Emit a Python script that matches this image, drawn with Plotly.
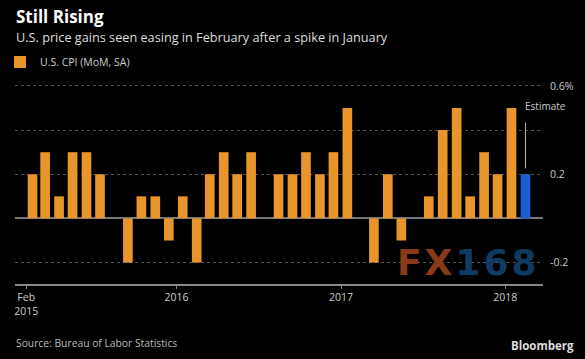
import pandas as pd
import plotly.graph_objects as go

# ---- data ----
month_labels = [p.strftime("%Y-%m") for p in pd.period_range("2015-02", "2018-02", freq="M")]
cpi_actual = [0.2, 0.3, 0.1, 0.3, 0.3, 0.2, 0.0, -0.2, 0.1, 0.1, -0.1, 0.1,
              -0.2, 0.2, 0.3, 0.2, 0.3, 0.0, 0.2, 0.2, 0.3, 0.2, 0.3, 0.5,
              0.0, -0.2, 0.2, -0.1, 0.0, 0.1, 0.4, 0.5, 0.1, 0.3, 0.2, 0.5]
cpi_estimate = [0.2]
tick_dates = ["2015-02-01", "2016-01-01", "2017-01-01", "2018-01-01"]
tick_labels = ["Feb<br>2015", "2016", "2017", "2018"]
y_tickvals = [-0.2, 0.0, 0.2, 0.4, 0.6]
y_ticktext = ["-0.2", "", "0.2", "", "0.6%"]

ORANGE = "#E8952C"
BLUE = "#1B5FD2"
FONT = "Open Sans"

x_all = [pd.Timestamp(m + "-15") for m in month_labels]
x_actual = x_all[:len(cpi_actual)]
x_est = x_all[len(cpi_actual):]
bar_w = 21.5 * 86400000

fig = go.Figure()
fig.add_trace(go.Bar(x=x_actual, y=cpi_actual, name="U.S. CPI (MoM, SA)",
                     marker=dict(color=ORANGE, line=dict(width=0)), width=bar_w))
fig.add_trace(go.Bar(x=x_est, y=cpi_estimate, name="Estimate", showlegend=False,
                     marker=dict(color=BLUE, line=dict(width=0)), width=bar_w))

W, H = 585, 359
T, B, L, R = 80, 75, 15, 42
PW = W - L - R
def py(pix):
    return (H - B - pix) / (H - T - B)
def px(pix):
    return (pix - L) / PW

fig.update_layout(
    width=W, height=H,
    margin=dict(l=L, r=R, t=T, b=B, autoexpand=False),
    paper_bgcolor="#000000", plot_bgcolor="#000000",
    barmode="overlay",
    font=dict(family=FONT, color="#cccccc", size=11),
    showlegend=True,
    legend=dict(x=-2 / W, y=1 - 62 / H, xref="container", yref="container",
                xanchor="left", yanchor="middle",
                orientation="h", bgcolor="rgba(0,0,0,0)",
                font=dict(size=10.5, color="#cccccc", family=FONT),
                itemwidth=30),
    xaxis=dict(type="date", range=["2015-01-07", "2018-03-26"],
               tickvals=tick_dates, ticktext=tick_labels,
               ticks="outside", ticklen=3, tickcolor="#888888", tickwidth=1,
               showline=True, linecolor="#888888", linewidth=1.5,
               showgrid=False, zeroline=False, automargin=False,
               tickfont=dict(size=10.5, color="#cccccc")),
    yaxis=dict(range=[-0.297, 0.627], side="right", automargin=False,
               tickvals=y_tickvals, ticktext=y_ticktext,
               showgrid=True, gridcolor="#555555", griddash="dot", gridwidth=1,
               zeroline=True, zerolinecolor="#777777", zerolinewidth=1.5,
               ticks="", tickfont=dict(size=10.5, color="#cccccc"),
               ticklabelstandoff=6),
)

annotations = [
    dict(text="<b>Still Rising</b>", x=px(14), y=py(16), xref="paper", yref="paper",
         xanchor="left", yanchor="middle", showarrow=False,
         font=dict(size=17, color="#ffffff", family=FONT)),
    dict(text="U.S. price gains seen easing in February after a spike in January",
         x=px(14), y=py(37), xref="paper", yref="paper",
         xanchor="left", yanchor="middle", showarrow=False,
         font=dict(size=12.7, color="#dddddd", family=FONT)),
    dict(text="Source: Bureau of Labor Statistics", x=px(14), y=py(343), xref="paper", yref="paper",
         xanchor="left", yanchor="middle", showarrow=False,
         font=dict(size=10.3, color="#bbbbbb", family=FONT)),
    dict(text="<b>Bloomberg</b>", x=px(576), y=py(345), xref="paper", yref="paper",
         xanchor="right", yanchor="middle", showarrow=False,
         font=dict(size=11.5, color="#dddddd", family=FONT)),
    # estimate label and leader line
    dict(text="", x=x_est[0], y=cpi_estimate[0], xref="x", yref="y",
         showarrow=True, arrowhead=0, arrowwidth=1, arrowcolor="#bbbbbb",
         ax=0, ay=-53, standoff=6),
    dict(text="Estimate", x=x_est[0], y=cpi_estimate[0], xref="x", yref="y",
         xanchor="left", yanchor="middle", showarrow=False, yshift=68, xshift=-2,
         font=dict(size=10, color="#cccccc", family=FONT)),
    # watermark
    dict(text="<span style='color:#8a3a16;letter-spacing:3px'>FX</span>"
              "<span style='color:#0f3b62;letter-spacing:3px'>168</span>",
         x=px(395), y=py(262.5), xref="paper", yref="paper",
         xanchor="left", yanchor="middle", showarrow=False,
         font=dict(size=36, family="DejaVu Sans", weight="bold")),
]
fig.update_layout(annotations=annotations)

fig.write_html("out.html",
               config={"displayModeBar": False},
               post_script="document.body.style.margin='0';document.body.style.background='#000';")
